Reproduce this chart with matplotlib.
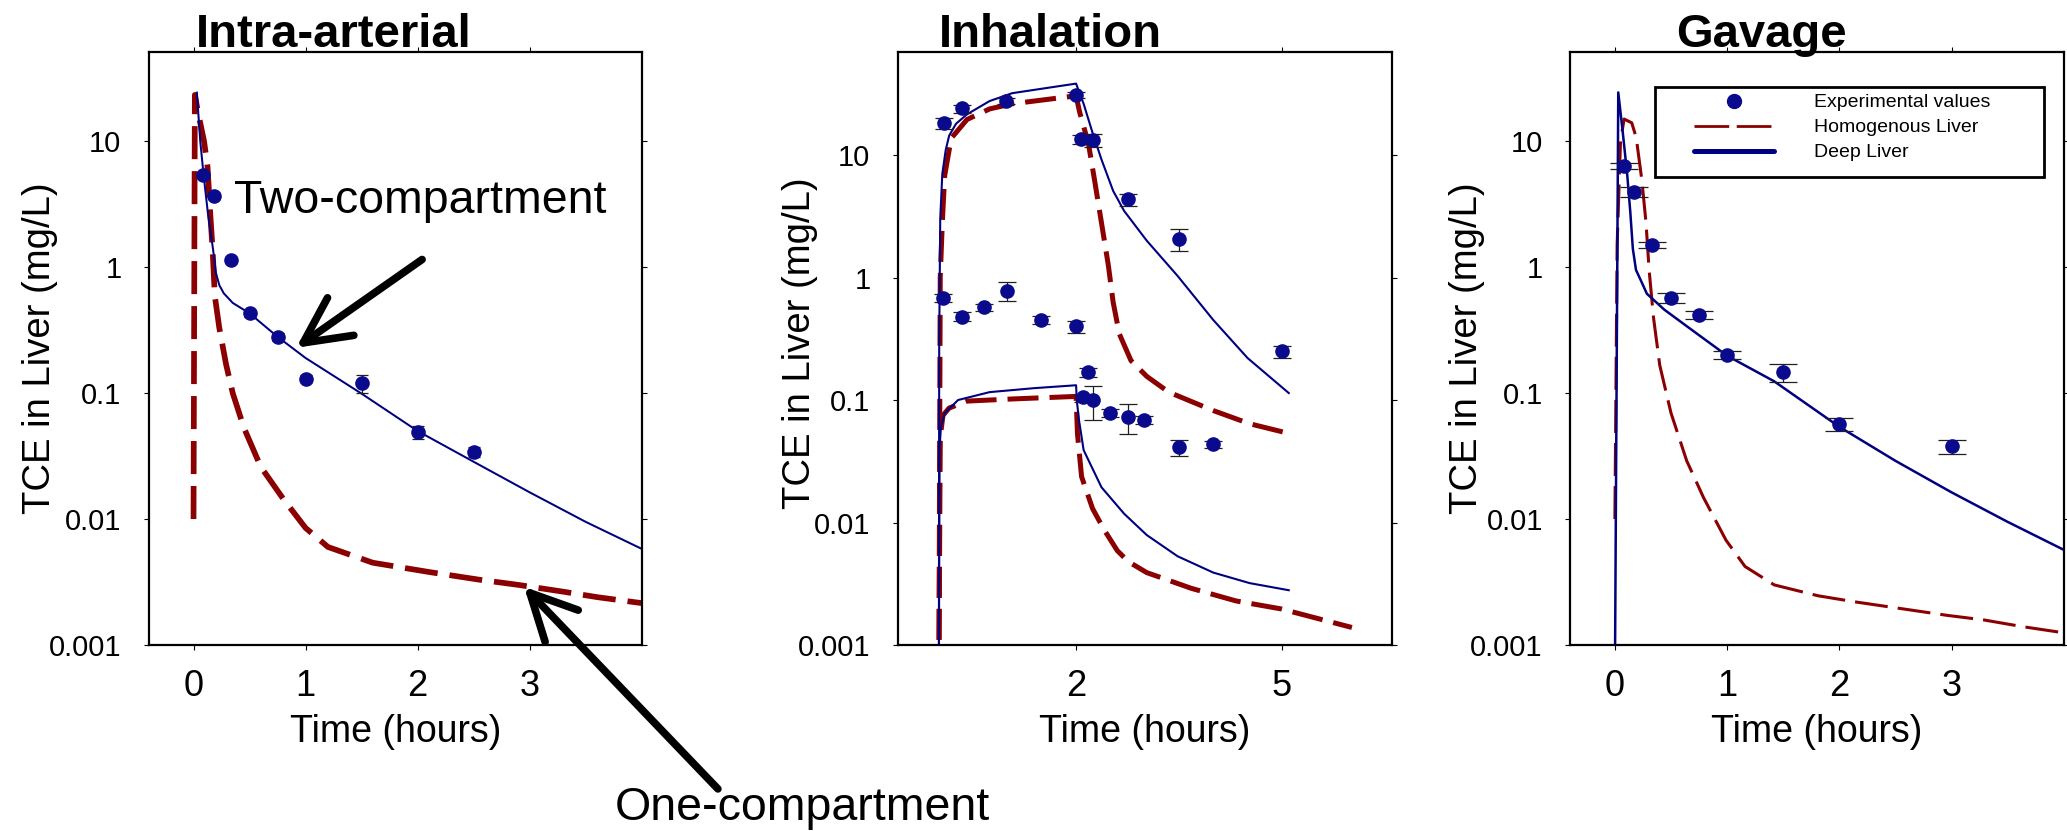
import matplotlib
matplotlib.use('Agg')
import matplotlib.pyplot as plt
from matplotlib.lines import Line2D
from matplotlib.patches import Rectangle
from matplotlib.ticker import NullLocator

plt.rcParams['font.family'] = ['Liberation Sans', 'DejaVu Sans']

BLUE = '#000080'
DOT = '#0A0A8C'
RED = '#8B0000'

# %% data -- Intra-arterial
ia_obs_t = [0.089, 0.184, 0.333, 0.5, 0.75, 1.0, 1.5, 2.0, 2.5]
ia_obs_c = [5.4, 3.68, 1.14, 0.43, 0.28, 0.13, 0.12, 0.049, 0.034]
ia_obs_err = [0.25, 0.2, 0.06, 0.03, 0.02, 0.008, 0.02, 0.006, 0.003]

ia_deep_t = [0.03, 0.06, 0.09, 0.13, 0.175, 0.2, 0.23, 0.27, 0.35, 0.5, 0.75, 1.0, 1.5, 2.0,
             2.5, 3.0, 3.5, 4.0]
ia_deep_c = [24.3, 10, 5.4, 2.6, 1.37, 0.9, 0.72, 0.62, 0.52, 0.43, 0.28, 0.19, 0.099, 0.05,
             0.0285, 0.0163, 0.0095, 0.0058]

ia_homo_t = [0.0, 0.012, 0.04, 0.094, 0.125, 0.15, 0.17, 0.19, 0.23, 0.29, 0.35, 0.45, 0.6, 0.8,
             1.0, 1.2, 1.6, 2.1, 2.55, 2.9, 3.3, 3.6, 4.0]
ia_homo_c = [0.01, 23.3, 17, 10, 6.3, 2.6, 1.4, 0.59, 0.33, 0.17, 0.10, 0.053, 0.026, 0.0145,
             0.0085, 0.006, 0.0045, 0.0038, 0.0033, 0.0030, 0.00265, 0.0024, 0.00215]

# %% data -- Inhalation
inh_hi_t = [0.07, 0.33, 0.98, 2.0, 2.07, 2.25, 2.75, 3.5, 5.0]
inh_hi_c = [18.2, 24.0, 27.6, 31.0, 13.5, 13.2, 4.34, 2.06, 0.25]
inh_hi_err = [1.8, 1.8, 1.5, 2.0, 1.1, 1.6, 0.47, 0.42, 0.028]

inh_mid_t = [0.065, 0.33, 0.66, 0.99, 1.49, 2.0]
inh_mid_c = [0.68, 0.48, 0.57, 0.78, 0.45, 0.40]
inh_mid_err = [0.05, 0.04, 0.04, 0.135, 0.035, 0.045]

inh_lo_t = [2.1, 2.18, 2.25, 2.49, 2.75, 2.99, 3.5, 4.0]
inh_lo_c = [0.105, 0.168, 0.10, 0.078, 0.073, 0.0686, 0.041, 0.0437]
inh_lo_err = [0.008, 0.013, 0.031, 0.006, 0.02, 0.005, 0.006, 0.003]

inh_deep_hi_t = [0.0, 0.005, 0.02, 0.05, 0.1, 0.15, 0.25, 0.41, 0.74, 1.07, 1.59, 2.0,
                 2.11, 2.24, 2.37, 2.54, 2.7, 3.03, 3.48, 4.0, 4.5, 5.1]
inh_deep_hi_c = [0.0005, 0.3, 3.0, 7.0, 11.0, 14.4, 18.0, 21.5, 27.6, 32.0, 35.4, 38.3,
                 26.2, 15.2, 9.2, 5.1, 3.5, 2.0, 1.03, 0.45, 0.22, 0.114]

inh_homo_hi_t = [0.0, 0.02, 0.05, 0.085, 0.18, 0.41, 0.74, 1.07, 1.59, 2.0, 2.05, 2.18, 2.27,
                 2.37, 2.47, 2.54, 2.63, 2.8, 3.03, 3.35, 4.0, 4.53, 5.1]
inh_homo_hi_c = [0.0005, 1.0, 2.8, 6.8, 13.7, 19.5, 23.8, 26.2, 28.5, 30.5, 22.6, 12.4, 6.2,
                 2.8, 1.26, 0.63, 0.347, 0.21, 0.156, 0.116, 0.082, 0.064, 0.0534]

inh_deep_lo_t = [0.0, 0.01, 0.03, 0.085, 0.28, 0.74, 1.39, 2.0, 2.01, 2.04, 2.11, 2.37, 2.7,
                 3.03, 3.48, 4.0, 4.53, 5.1]
inh_deep_lo_c = [0.0005, 0.04, 0.06, 0.078, 0.1, 0.116, 0.125, 0.132, 0.1, 0.07, 0.039, 0.0194,
                 0.0118, 0.0079, 0.0053, 0.0039, 0.0032, 0.0028]

inh_homo_lo_t = [0.0, 0.02, 0.06, 0.15, 0.41, 1.07, 2.0, 2.02, 2.08, 2.24, 2.41, 2.6, 2.76,
                 3.03, 3.68, 4.33, 4.99, 6.02]
inh_homo_lo_c = [0.0005, 0.05, 0.075, 0.086, 0.098, 0.102, 0.107, 0.053, 0.0237, 0.013, 0.0087,
                 0.0059, 0.0048, 0.0039, 0.0029, 0.00229, 0.00197, 0.00139]

# %% data -- Gavage
gav_obs_t = [0.082, 0.168, 0.332, 0.5, 0.75, 1.0, 1.5, 2.0, 3.0]
gav_obs_c = [6.4, 3.98, 1.5, 0.574, 0.417, 0.202, 0.147, 0.057, 0.0377]
gav_obs_err = [0.37, 0.37, 0.085, 0.055, 0.03, 0.015, 0.024, 0.007, 0.0048]

gav_deep_t = [0.0, 0.03, 0.07, 0.11, 0.137, 0.16, 0.188, 0.227, 0.285, 0.44, 0.64, 1.0, 1.42,
              2.0, 2.5, 3.0, 3.5, 4.0]
gav_deep_c = [0.0005, 24.4, 11.8, 5.4, 2.76, 1.4, 0.95, 0.8, 0.615, 0.46, 0.34, 0.198, 0.124,
              0.054, 0.029, 0.0163, 0.0095, 0.0057]

gav_homo_t = [0.0, 0.02, 0.05, 0.082, 0.15, 0.19, 0.24, 0.277, 0.305, 0.344, 0.4, 0.5, 0.64,
              0.79, 0.99, 1.16, 1.42, 1.81, 2.14, 2.96, 3.29, 3.63, 4.0]
gav_homo_c = [0.01, 1.5, 10, 15, 14, 10.7, 4.93, 2.27, 0.95, 0.398, 0.166, 0.0695, 0.029,
              0.0148, 0.0068, 0.0042, 0.003, 0.00246, 0.0022, 0.00172, 0.00158, 0.0014, 0.00125]

ytick_vals = [0.001, 0.01, 0.1, 1, 10]
ytick_labels = ['0.001', '0.01', '0.1', '1', '10']
legend_labels = ['Experimental values', 'Homogenous Liver', 'Deep Liver']

# annotation positions (data coords of panel 1)
two_arrow = [(2.04, 1.15), (0.916, 0.229)]
one_arrow = [(4.68, 7.2e-5), (2.95, 0.0029)]


def style(ax, xlim, xticks, ytop, ylab_x, ylab_y=0.5):
    ax.set_yscale('log')
    ax.set_xlim(*xlim)
    ax.set_ylim(0.001, ytop)
    ax.set_xticks(xticks)
    ax.set_xticklabels([str(t) for t in xticks])
    ax.set_yticks(ytick_vals)
    ax.set_yticklabels(ytick_labels)
    ax.yaxis.set_minor_locator(NullLocator())
    ax.xaxis.set_minor_locator(NullLocator())
    ax.tick_params(direction='out', length=3.6, width=0.8, top=True, right=True,
                   labeltop=False, labelright=False)
    ax.tick_params(axis='x', labelsize=26, pad=14)
    ax.tick_params(axis='y', labelsize=21, pad=16)
    for s in ax.spines.values():
        s.set_linewidth(1.6)
    ax.set_xlabel('Time (hours)', fontsize=27, va='top')
    ax.xaxis.set_label_coords(0.5, -0.117)
    ax.set_ylabel('TCE in Liver (mg/L)', fontsize=27.5)
    ax.yaxis.set_label_coords(ylab_x, ylab_y)


def obs(ax, t, c, err, cap):
    ax.errorbar(t, c, yerr=err, fmt='o', ms=9.5, color=DOT, ecolor='#202020',
                elinewidth=0.9, capsize=cap, capthick=0.9, zorder=5)


fig = plt.figure(figsize=(20.67, 8.31), dpi=100)
ax1 = fig.add_axes([0.07194, 0.22383, 0.23851, 0.71324])
ax2 = fig.add_axes([0.43430, 0.22383, 0.23899, 0.71324])
ax3 = fig.add_axes([0.75956, 0.22383, 0.23885, 0.71324])

# %% Intra-arterial
ax1.plot(ia_homo_t, ia_homo_c, color=RED, lw=4.1, dashes=(5.8, 2.1))
ax1.plot(ia_deep_t, ia_deep_c, color=BLUE, lw=1.45)
obs(ax1, ia_obs_t, ia_obs_c, ia_obs_err, 4)
style(ax1, (-0.4, 4.0), [0, 1, 2, 3], 50.8, -0.1836)

ax1.text(0.36, 2.68, 'Two-compartment', fontsize=33.5, va='baseline')
arrow_kw = dict(arrowstyle='->,head_length=1.1,head_width=0.55', lw=5.5, color='black',
                mutation_scale=30, shrinkA=0, shrinkB=0)
ax1.annotate('', xy=two_arrow[1], xytext=two_arrow[0], arrowprops=arrow_kw)
ax1.annotate('', xy=one_arrow[1], xytext=one_arrow[0], arrowprops=arrow_kw,
             annotation_clip=False)
fig.text(615 / 2067, 11 / 831, 'One-compartment', fontsize=33.5, va='baseline', ha='left')

# %% Inhalation
ax2.plot(inh_homo_hi_t, inh_homo_hi_c, color=RED, lw=3.6, dashes=(6.2, 2.2))
ax2.plot(inh_homo_lo_t, inh_homo_lo_c, color=RED, lw=3.6, dashes=(6.2, 2.2))
ax2.plot(inh_deep_hi_t, inh_deep_hi_c, color=BLUE, lw=1.5)
ax2.plot(inh_deep_lo_t, inh_deep_lo_c, color=BLUE, lw=1.5)
obs(ax2, inh_hi_t, inh_hi_c, inh_hi_err, 6.5)
obs(ax2, inh_mid_t, inh_mid_c, inh_mid_err, 6.5)
obs(ax2, inh_lo_t, inh_lo_c, inh_lo_err, 6.5)
style(ax2, (-0.6, 6.6), [2, 5], 69, -0.161, 0.51)

# %% Gavage
ax3.plot(gav_homo_t, gav_homo_c, color=RED, lw=2.2, dashes=(10.8, 3.3))
ax3.plot(gav_deep_t, gav_deep_c, color=BLUE, lw=1.8)
obs(ax3, gav_obs_t, gav_obs_c, gav_obs_err, 10)
style(ax3, (-0.4, 4.0), [0, 1, 2, 3], 50.8, -0.173)

ax3.add_patch(Rectangle((0.172, 0.790), 0.788, 0.151, transform=ax3.transAxes,
                        facecolor='white', edgecolor='black', lw=2.0, zorder=6))
handles = [Line2D([], [], ls='none', marker='o', ms=10, color=DOT),
           Line2D([], [], color=RED, lw=2.0, dashes=(12.5, 2.7)),
           Line2D([], [], color=BLUE, lw=3.6, solid_capstyle='round')]
leg = ax3.legend(handles, legend_labels, loc='upper left', bbox_to_anchor=(0.251, 0.930),
                 frameon=False, borderpad=0, borderaxespad=0, handlelength=4.1,
                 handletextpad=2.06, labelspacing=0.38, prop={'size': 14})
leg.set_zorder(7)

# %% titles
for x, name in [(195.5, 'Intra-arterial'), (938.8, 'Inhalation'), (1676.5, 'Gavage')]:
    fig.text(x / 2067, (831 - 46.7) / 831, name, fontsize=34, fontweight='bold',
             va='baseline', ha='left')

fig.savefig('out.png', dpi=100)
